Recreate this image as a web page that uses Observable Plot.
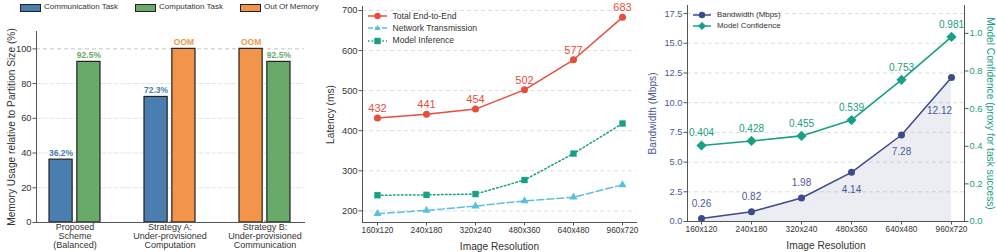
<!DOCTYPE html>
<html><head><meta charset="utf-8">
<script src="https://cdn.jsdelivr.net/npm/d3@7"></script>
<script src="https://cdn.jsdelivr.net/npm/@observablehq/plot@0.6"></script>
<style>
body{margin:0;background:#fff;font-family:"Liberation Sans",Arial,sans-serif;}
#wrap{position:relative;width:997px;height:252px;overflow:hidden;background:#fff;}
.layer{position:absolute;top:0;}
.lg{position:absolute;white-space:nowrap;color:#333;line-height:1;display:flex;align-items:center;}
.lg svg{display:block;}
</style></head><body><div id="wrap"></div><script>
// ---------- data ----------
const strategies = ["Proposed\nScheme\n(Balanced)", "Strategy A:\nUnder-provisioned\nComputation", "Strategy B:\nUnder-provisioned\nCommunication"];
const tasks = ["Communication Task", "Computation Task"];
const commUsage = [36.2, 72.3, 100];
const compUsage = [92.5, 100, 92.5];
const commOOM = [false, false, true];
const compOOM = [false, true, false];
const memTicks = [0, 20, 40, 60, 80, 100];

const resolutions = ["160x120", "240x180", "320x240", "480x360", "640x480", "960x720"];
const totalLatency = [432, 441, 454, 502, 577, 683];
const networkLatency = [193, 201, 212, 225, 234, 265];
const inferenceLatency = [239, 240, 242, 277, 343, 418];
const latencyTicks = [200, 300, 400, 500, 600, 700];

const bandwidth = [0.26, 0.82, 1.98, 4.14, 7.28, 12.12];
const confidence = [0.404, 0.428, 0.455, 0.539, 0.753, 0.981];
const bandwidthTicks = [0, 2.5, 5, 7.5, 10, 12.5, 15, 17.5];
const confidenceTicks = [0, 0.2, 0.4, 0.6, 0.8, 1.0];

// ---------- styles ----------
const FONT = "Liberation Sans, Arial, sans-serif";
const C = {blue:"#4a7eb0", green:"#69a969", orange:"#f2954a", red:"#e84d3c", sky:"#5bbfdf", teal:"#17a084", navy:"#3b4b8c", navyText:"#4a5a9a", axis:"#555", text:"#333", grid:"#dedede"};
const wrap = document.getElementById("wrap");
function place(el, left){ const d=document.createElement("div"); d.className="layer"; d.style.left=left+"px"; d.appendChild(el); wrap.appendChild(d); }

// ---------- panel 1 ----------
const W1 = 320, m1 = {l:36, r:16, t:31, b:30};
const pi1 = 0.46, po1 = 0.13;
const step1 = (W1 - m1.l - m1.r) / (strategies.length - pi1 + 2*po1);
const band1 = step1 * (1 - pi1);
const inset1 = band1/2 + 2, shift1 = band1/4 + 1;
const commRows = strategies.map((s,i)=>({strategy:s, task:tasks[0], value:commUsage[i], key: commOOM[i]?"oom":"comm"}));
const compRows = strategies.map((s,i)=>({strategy:s, task:tasks[1], value:compUsage[i], key: compOOM[i]?"oom":"comp"}));
const lab = d => d.key==="oom" ? "OOM" : d.value.toFixed(1)+"%";
const p1 = Plot.plot({
  width: W1, height: 252, marginLeft: m1.l, marginRight: m1.r, marginTop: m1.t, marginBottom: m1.b,
  style: {fontFamily: FONT, color: C.text, background: "transparent", overflow: "visible"},
  x: {domain: strategies, paddingInner: pi1, paddingOuter: po1},
  y: {domain: [0, 110]},
  color: {domain: ["comm","comp","oom"], range: [C.blue, C.green, C.orange]},
  marks: [
    Plot.gridY(memTicks.filter(d=>d>0 && d<100), {stroke: "#e4e4e4", strokeOpacity: 1, strokeDasharray: "5,1.5"}),
    Plot.gridY([100], {stroke: "#c4c4c4", strokeOpacity: 1, strokeDasharray: "4,3"}),
    Plot.barY(commRows, {x:"strategy", y:"value", fill:"key", stroke:"#222", strokeWidth:1.2, insetRight: inset1}),
    Plot.barY(compRows, {x:"strategy", y:"value", fill:"key", stroke:"#222", strokeWidth:1.2, insetLeft: inset1}),
    Plot.text(commRows, {x:"strategy", y:"value", text: lab, fill:"key", dx:-shift1, dy:-3.5, lineAnchor:"bottom", fontWeight:"bold", fontSize:8.5}),
    Plot.text(compRows, {x:"strategy", y:"value", text: lab, fill:"key", dx:shift1, dy:-3.5, lineAnchor:"bottom", fontWeight:"bold", fontSize:8.5}),
    Plot.axisY({ticks: memTicks, tickSize: 3.5, tickPadding: 1.5, fontSize: 9.3, label: null, stroke: C.axis, fill: C.text}),
    Plot.axisX({tickSize: 2.5, tickPadding: 0, dy: -1.5, fontSize: 9, lineHeight: 1.0, label: null, stroke: C.axis, fill: C.text}),
    Plot.frame({anchor: "left", stroke: C.axis}),
    Plot.frame({anchor: "bottom", stroke: C.axis}),
    Plot.text(["Memory Usage relative to Partition Size (%)"], {frameAnchor: "left", textAnchor: "middle", lineAnchor: "middle", rotate: -90, dx: -25, fontSize: 10.2, fill: C.text})
  ]
});
place(p1, 0);

// ---------- panel 2 ----------
const latRows = resolutions.map((r,i)=>({res:r, total: totalLatency[i], net: networkLatency[i], inf: inferenceLatency[i]}));
const p2 = Plot.plot({
  width: 340, height: 252, marginLeft: 42, marginRight: 24, marginTop: 6, marginBottom: 30,
  style: {fontFamily: FONT, color: C.text, background: "transparent", overflow: "visible"},
  x: {type: "point", domain: resolutions, padding: 0.25},
  y: {domain: [171, 710]},
  marks: [
    Plot.gridY(latencyTicks, {stroke: C.grid, strokeOpacity: 1, strokeDasharray: "4,3"}),
    Plot.line(latRows, {x:"res", y:"net", stroke: C.sky, strokeWidth: 1.5, strokeDasharray: "7,3"}),
    Plot.dot(latRows, {x:"res", y:"net", symbol: "triangle", r: 3, fill: C.sky}),
    Plot.line(latRows, {x:"res", y:"inf", stroke: C.teal, strokeWidth: 1.5, strokeDasharray: "1.6,2.4"}),
    Plot.dot(latRows, {x:"res", y:"inf", symbol: "square", r: 3.6, fill: C.teal}),
    Plot.line(latRows, {x:"res", y:"total", stroke: C.red, strokeWidth: 1.5}),
    Plot.dot(latRows, {x:"res", y:"total", r: 3.5, fill: C.red}),
    Plot.text(latRows, {x:"res", y:"total", text: d=>String(d.total), dy: -9.5, lineAnchor: "middle", fontSize: 11, fill: C.red}),
    Plot.axisY({ticks: latencyTicks, tickSize: 3.5, tickPadding: 1.5, fontSize: 9.3, label: null, stroke: C.axis, fill: C.text}),
    Plot.axisX({tickSize: 3.5, tickPadding: 1.5, fontSize: 8.3, label: null, stroke: C.axis, fill: C.text}),
    Plot.frame({anchor: "left", stroke: C.axis}),
    Plot.frame({anchor: "bottom", stroke: C.axis}),
    Plot.text(["Latency (ms)"], {frameAnchor: "left", textAnchor: "middle", lineAnchor: "middle", rotate: -90, dx: -32, fontSize: 10.2, fill: C.text}),
    Plot.text(["Image Resolution"], {frameAnchor: "bottom", textAnchor: "middle", lineAnchor: "middle", dy: 24, fontSize: 10.2, fill: C.text})
  ]
});
place(p2, 320);

// ---------- panel 3 ----------
const W3 = 357, m3 = {l:47, r:33, t:5, b:31};
const bwRows = resolutions.map((r,i)=>({i, res:r, bw: bandwidth[i], conf: confidence[i]}));
const p3 = Plot.plot({
  width: W3, height: 252, marginLeft: m3.l, marginRight: m3.r, marginTop: m3.t, marginBottom: m3.b,
  style: {fontFamily: FONT, color: C.text, background: "transparent", overflow: "visible"},
  x: {type: "point", domain: resolutions, padding: 0.23},
  y: {domain: [0, 18.18]},
  marks: [
    Plot.gridY(bandwidthTicks.filter(d=>d>0), {stroke: C.grid, strokeOpacity: 1, strokeDasharray: "4,3"}),
    Plot.areaY(bwRows, {x:"res", y:"bw", fill: C.navy, fillOpacity: 0.1}),
    Plot.line(bwRows, {x:"res", y:"bw", stroke: C.navy, strokeWidth: 1.5}),
    Plot.dot(bwRows, {x:"res", y:"bw", r: 3.5, fill: C.navy}),
    Plot.text(bwRows, {filter: d=>d.i<3, x:"res", y:"bw", text: d=>String(d.bw), dy: -15, lineAnchor:"middle", fontSize: 10, fill: C.navyText}),
    Plot.text(bwRows, {filter: d=>d.i>=3 && d.i<5, x:"res", y:"bw", text: d=>String(d.bw), dy: 17, lineAnchor:"middle", fontSize: 10, fill: C.navyText}),
    Plot.text(bwRows, {filter: d=>d.i===5, x:"res", y:"bw", text: d=>d.bw.toFixed(2), dx: -12, dy: 33, lineAnchor:"middle", fontSize: 10, fill: C.navyText}),
    Plot.axisY({ticks: bandwidthTicks, tickFormat: d3.format(".1f"), tickSize: 3.5, tickPadding: 1.5, fontSize: 9.3, label: null, stroke: C.axis, fill: C.navyText}),
    Plot.axisX({tickSize: 3.5, tickPadding: 1.5, fontSize: 8.3, label: null, stroke: C.axis, fill: C.text}),
    Plot.frame({anchor: "left", stroke: C.axis}),
    Plot.frame({anchor: "bottom", stroke: C.axis}),
    Plot.text(["Bandwidth (Mbps)"], {frameAnchor: "left", textAnchor: "middle", lineAnchor: "middle", rotate: -90, dx: -35, fontSize: 10.2, fill: C.navyText}),
    Plot.text(["Image Resolution"], {frameAnchor: "bottom", textAnchor: "middle", lineAnchor: "middle", dy: 24, fontSize: 10.2, fill: C.text})
  ]
});
place(p3, 640);

const p3b = Plot.plot({
  width: W3, height: 252, marginLeft: m3.l, marginRight: m3.r, marginTop: m3.t, marginBottom: m3.b,
  style: {fontFamily: FONT, color: C.text, background: "transparent", overflow: "visible"},
  x: {type: "point", domain: resolutions, padding: 0.23, axis: null},
  y: {domain: [0, 1.148]},
  marks: [
    Plot.line(bwRows, {x:"res", y:"conf", stroke: C.teal, strokeWidth: 1.6}),
    Plot.dot(bwRows, {x:"res", y:"conf", symbol: "diamond2", r: 4.6, fill: C.teal}),
    Plot.text(bwRows, {x:"res", y:"conf", text: d=>d.conf.toFixed(3), dy: -12.5, lineAnchor:"middle", fontSize: 10, fill: C.teal}),
    Plot.axisY({anchor: "right", ticks: confidenceTicks, tickFormat: d3.format(".1f"), tickSize: 3.5, tickPadding: 1.5, fontSize: 9.3, label: null, stroke: C.axis, fill: C.teal}),
    Plot.frame({anchor: "right", stroke: C.axis}),
    Plot.text(["Model Confidence (proxy for task success)"], {frameAnchor: "right", textAnchor: "middle", lineAnchor: "middle", rotate: 90, dx: 25.5, fontSize: 10.2, fill: C.teal})
  ]
});
place(p3b, 640);

// ---------- legends ----------
function marker(sym, color, cx, cy){
  if (sym==="circle") return `<circle cx="${cx}" cy="${cy}" r="3.2" fill="${color}"/>`;
  if (sym==="triangle") return `<polygon points="${cx},${cy-3.2} ${cx+3},${cy+2} ${cx-3},${cy+2}" fill="${color}"/>`;
  if (sym==="square") return `<rect x="${cx-3.2}" y="${cy-3.2}" width="6.4" height="6.4" fill="${color}"/>`;
  if (sym==="diamond") return `<polygon points="${cx},${cy-4} ${cx+4},${cy} ${cx},${cy+4} ${cx-4},${cy}" fill="${color}"/>`;
  return "";
}
function lineLegend(items, x, y0, dy, lw, gap, fs){
  items.forEach((it, k)=>{
    const d = document.createElement("div"); d.className="lg";
    d.style.left = x+"px"; d.style.top = (y0 + k*dy - 5)+"px"; d.style.fontSize = fs+"px"; d.style.height="10px";
    d.innerHTML = `<svg width="${lw}" height="10"><line x1="0" y1="5" x2="${lw}" y2="5" stroke="${it.color}" stroke-width="1.5" ${it.dash?`stroke-dasharray="${it.dash}"`:""}/>${marker(it.sym, it.color, lw/2, 5)}</svg><span style="margin-left:${gap}px">${it.label}</span>`;
    wrap.appendChild(d);
  });
}
// panel 1 legend (patches)
[{c:C.blue, t:tasks[0], x:20, tx:44}, {c:C.green, t:tasks[1], x:135, tx:159}, {c:C.orange, t:"Out Of Memory", x:240, tx:264}].forEach(it=>{
  const r = document.createElement("div");
  r.style.cssText = `position:absolute;left:${it.x}px;top:3.5px;width:${it.tx-it.x-5}px;height:6px;background:${it.c};border:1px solid #222;`;
  wrap.appendChild(r);
  const t = document.createElement("div"); t.className="lg";
  t.style.cssText += `left:${it.tx}px;top:2px;font-size:8px;height:10px;`;
  t.textContent = it.t; wrap.appendChild(t);
});
lineLegend([
  {label:"Total End-to-End", color:C.red, sym:"circle"},
  {label:"Network Transmission", color:C.sky, sym:"triangle", dash:"5,2"},
  {label:"Model Inference", color:C.teal, sym:"square", dash:"1.6,2"}
], 368, 16, 12.3, 19, 5.5, 8.6);
lineLegend([
  {label:"Bandwidth (Mbps)", color:C.navy, sym:"circle"},
  {label:"Model Confidence", color:C.teal, sym:"diamond"}
], 693, 14.7, 11.5, 18, 6, 7.9);
</script></body></html>
